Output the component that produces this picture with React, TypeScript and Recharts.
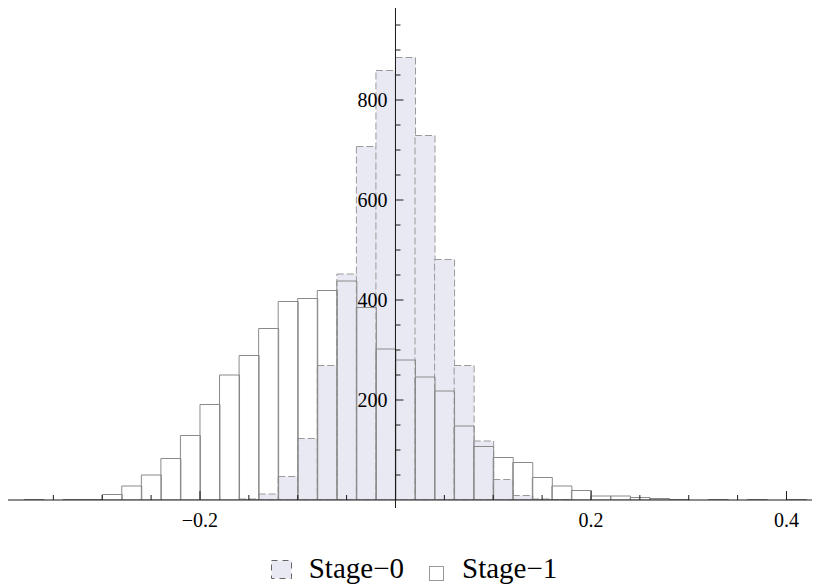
import React from 'react';
import { ComposedChart, Bar, XAxis, YAxis, ReferenceLine, Legend } from 'recharts';

// Bin centers (bin width 0.02)
const binCenters = [
  -0.37, -0.35, -0.33, -0.31, -0.29, -0.27, -0.25, -0.23, -0.21, -0.19,
  -0.17, -0.15, -0.13, -0.11, -0.09, -0.07, -0.05, -0.03, -0.01, 0.01,
  0.03, 0.05, 0.07, 0.09, 0.11, 0.13, 0.15, 0.17, 0.19, 0.21,
  0.23, 0.25, 0.27, 0.29, 0.31, 0.33, 0.35, 0.37, 0.39, 0.41,
];

const stage0Counts = [
  0, 0, 0, 0, 0, 0, 0, 0, 0, 0,
  0, 2, 12, 47, 123, 269, 452, 707, 859, 885,
  729, 481, 269, 118, 41, 9, 2, 1, 0, 0,
  0, 0, 0, 0, 0, 0, 0, 0, 0, 0,
];

const stage1Counts = [
  1, 0, 1, 1, 11, 28, 50, 83, 129, 191,
  250, 289, 343, 397, 403, 419, 438, 385, 302, 280,
  246, 218, 148, 107, 85, 75, 45, 28, 19, 8,
  8, 5, 3, 1, 0, 1, 0, 1, 0, 1,
];

const seriesNames = ['Stage\u22120', 'Stage\u22121'];

const xTickValues = [
  -0.35, -0.3, -0.25, -0.2, -0.15, -0.1, -0.05,
  0.05, 0.1, 0.15, 0.2, 0.25, 0.3, 0.35, 0.4,
];
const xLabelValues = [-0.2, 0.2, 0.4];

const yTickValues = [50, 100, 150, 200, 250, 300, 350, 400, 450, 500, 550, 600, 650, 700, 750, 800, 850, 900, 950];
const yLabelValues = [200, 400, 600, 800];

const data = binCenters.map((x, i) => ({ x, s0: stage0Counts[i], s1: stage1Counts[i] }));

const W = 812;
const H = 576;
const X_DOMAIN: [number, number] = [-0.3964, 0.4343];
const Y_DOMAIN: [number, number] = [0, 984];
const Y_AXIS_W = 1;
const MARGIN_LEFT = -1;
const PLOT_LEFT = MARGIN_LEFT + Y_AXIS_W;
const PLOT_W = W - PLOT_LEFT;
const X0 = PLOT_LEFT + ((0 - X_DOMAIN[0]) / (X_DOMAIN[1] - X_DOMAIN[0])) * PLOT_W;

const LAV = '#e9e9f3';
const AXIS = '#1a1a1a';
const FONT = '"Liberation Serif", "Times New Roman", serif';

const fmt = (v: number) => (v < 0 ? '\u2212' + String(Math.abs(v)) : String(v));
const isLabel = (v: number, arr: number[]) => arr.some((a) => Math.abs(a - v) < 1e-9);

const XTick = (props: any) => {
  const { x, y, payload } = props;
  const v = payload.value as number;
  const major = isLabel(v, xLabelValues);
  const len = major ? 9 : 5;
  return (
    <g>
      <line x1={x} x2={x} y1={y} y2={y - len} stroke={AXIS} strokeWidth={1} />
      {major && (
        <text x={x} y={y + 27} textAnchor="middle" fontFamily={FONT} fontSize={20} fill="#000">
          {fmt(v)}
        </text>
      )}
    </g>
  );
};

const YTick = (props: any) => {
  const { y, payload } = props;
  const v = payload.value as number;
  const major = v % 200 === 0;
  const len = major ? 8 : 5;
  return (
    <g>
      <line x1={X0} x2={X0 + len} y1={y} y2={y} stroke={AXIS} strokeWidth={1} />
      {isLabel(v, yLabelValues) && (
        <text x={X0 - 8} y={y} dy="0.34em" textAnchor="end" fontFamily={FONT} fontSize={20} fill="#000">
          {String(v)}
        </text>
      )}
    </g>
  );
};

const LegendContent = () => (
  <div
    style={{
      width: W,
      height: 50,
      display: 'flex',
      justifyContent: 'center',
      alignItems: 'flex-start',
      fontFamily: FONT,
      fontSize: 29,
      lineHeight: '29px',
      color: '#000',
    }}
  >
    <svg width={21} height={19} style={{ marginTop: 26, display: 'block' }}>
      <rect x={0.5} y={0.5} width={20} height={18} fill={LAV} stroke="#666" strokeDasharray="6 5" />
    </svg>
    <span style={{ marginLeft: 17, marginTop: 20, whiteSpace: 'nowrap' }}>{seriesNames[0]}</span>
    <svg width={15} height={15} style={{ marginLeft: 25, marginTop: 32, display: 'block' }}>
      <rect x={0.5} y={0.5} width={14} height={14} fill="#fff" stroke="#999" />
    </svg>
    <span style={{ marginLeft: 18, marginTop: 20, whiteSpace: 'nowrap' }}>{seriesNames[1]}</span>
  </div>
);

export default function App() {
  return (
    <ComposedChart
      width={W}
      height={H}
      data={data}
      margin={{ top: 0, right: 0, bottom: 0, left: MARGIN_LEFT }}
      barCategoryGap={0}
      barGap={0}
    >
      <Bar
        xAxisId={0}
        dataKey="s0"
        name={seriesNames[0]}
        fill={LAV}
        stroke="#9a9a9a"
        strokeWidth={1}
        strokeDasharray="7 3"
        isAnimationActive={false}
      />
      <Bar
        xAxisId={1}
        dataKey="s1"
        name={seriesNames[1]}
        fill="none"
        stroke="#8a8a8a"
        strokeWidth={1}
        isAnimationActive={false}
      />
      <XAxis
        xAxisId={1}
        dataKey="x"
        type="number"
        domain={X_DOMAIN}
        allowDataOverflow
        hide
      />
      <ReferenceLine
        segment={[{ x: 0, y: -16 }, { x: 0, y: 984 }]}
        stroke={AXIS}
        strokeWidth={1}
        ifOverflow="visible"
      />
      <YAxis
        type="number"
        domain={Y_DOMAIN}
        allowDataOverflow
        ticks={yTickValues}
        width={Y_AXIS_W}
        axisLine={false}
        tickLine={false}
        tick={<YTick />}
        interval={0}
      />
      <XAxis
        xAxisId={0}
        dataKey="x"
        type="number"
        domain={X_DOMAIN}
        allowDataOverflow
        ticks={xTickValues}
        interval={0}
        height={34}
        tickSize={0}
        tickMargin={0}
        tickLine={false}
        axisLine={{ stroke: AXIS, strokeWidth: 1 }}
        tick={<XTick />}
      />
      <Legend
        verticalAlign="bottom"
        align="left"
        width={W}
        wrapperStyle={{ left: 0, bottom: 0 }}
        content={<LegendContent />}
      />
    </ComposedChart>
  );
}
